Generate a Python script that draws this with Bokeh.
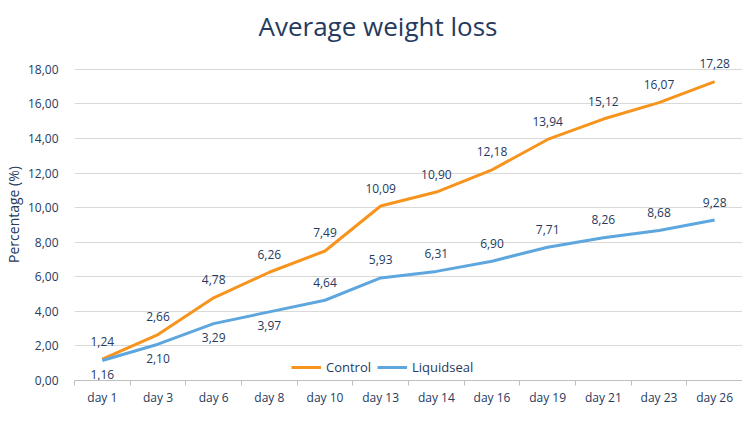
from bokeh.plotting import figure
from bokeh.models import (Range1d, FixedTicker, LinearAxis,
                          Legend, LegendItem, ColumnDataSource, Title)
from bokeh.core.properties import value
from bokeh.embed import file_html
from bokeh.resources import INLINE

days = ["day 1", "day 3", "day 6", "day 8", "day 10", "day 13", "day 14",
        "day 16", "day 19", "day 21", "day 23", "day 26"]
control = [1.24, 2.66, 4.78, 6.26, 7.49, 10.09, 10.90, 12.18, 13.94, 15.12, 16.07, 17.28]
liquidseal = [1.16, 2.10, 3.29, 3.97, 4.64, 5.93, 6.31, 6.90, 7.71, 8.26, 8.68, 9.28]
y_ticks = [0, 2, 4, 6, 8, 10, 12, 14, 16, 18]

NAVY = "#263a5e"
ORANGE = "#f7941d"
BLUE = "#5ea7de"
GRID = "#d9d9d9"
FONT = "Open Sans"

def fmt(v):
    return f"{v:.2f}".replace(".", ",")

n = len(days)
xpos = [i + 0.5 for i in range(n)]

p = figure(frame_width=668, frame_height=332, x_range=Range1d(0, n), y_range=Range1d(0, 19.2),
           output_backend="svg", toolbar_location=None, x_axis_location=None,
           y_axis_location=None, min_border_left=67, min_border_right=0,
           min_border_top=0, min_border_bottom=0)
p.outline_line_color = None
p.xgrid.grid_line_color = None
p.ygrid.ticker = FixedTicker(ticks=y_ticks)
p.ygrid.grid_line_color = GRID
p.ygrid.grid_line_width = 1

p.title = Title(text="Average weight loss", align="left", text_font=FONT,
                text_font_size="26px", text_font_style="normal", text_color=NAVY,
                offset=184, standoff=10)

yax = LinearAxis(ticker=FixedTicker(ticks=y_ticks),
                 major_label_overrides={t: fmt(t) for t in y_ticks},
                 axis_line_color=None, major_tick_line_color=None, minor_tick_line_color=None,
                 major_label_text_font=FONT, major_label_text_font_size="12px",
                 major_label_text_color=NAVY, major_label_standoff=10,
                 axis_label="Percentage (%)", axis_label_text_font=FONT,
                 axis_label_text_font_size="14px", axis_label_text_font_style="normal",
                 axis_label_text_color=NAVY, axis_label_standoff=2)
p.add_layout(yax, "left")

xax = LinearAxis(ticker=FixedTicker(ticks=xpos, minor_ticks=list(range(n + 1))),
                 major_label_overrides={x: d for x, d in zip(xpos, days)},
                 axis_line_color="#bfbfbf", major_tick_line_color=None,
                 major_tick_out=5, major_tick_in=0,
                 minor_tick_line_color="#bfbfbf", minor_tick_out=5, minor_tick_in=0,
                 major_label_text_font=FONT, major_label_text_font_size="12px",
                 major_label_text_color=NAVY, major_label_standoff=3)
p.add_layout(xax, "below")

src = ColumnDataSource(dict(x=xpos, control=control, liquidseal=liquidseal,
                            clab=[fmt(v) for v in control]))
r1 = p.line("x", "control", source=src, line_color=ORANGE, line_width=3)
r2 = p.line("x", "liquidseal", source=src, line_color=BLUE, line_width=3)

p.text("x", "control", text="clab", source=src, y_offset=-18, text_align="center",
       text_baseline="middle", text_font=value(FONT), text_font_size="12px", text_color=NAVY)

below = ColumnDataSource(dict(x=xpos[:4], y=liquidseal[:4], t=[fmt(v) for v in liquidseal[:4]]))
above = ColumnDataSource(dict(x=xpos[4:], y=liquidseal[4:], t=[fmt(v) for v in liquidseal[4:]]))
p.text("x", "y", text="t", source=below, y_offset=14, text_align="center",
       text_baseline="middle", text_font=value(FONT), text_font_size="12px", text_color=NAVY)
p.text("x", "y", text="t", source=above, y_offset=-18, text_align="center",
       text_baseline="middle", text_font=value(FONT), text_font_size="12px", text_color=NAVY)

legend = Legend(items=[LegendItem(label="Control", renderers=[r1]),
                       LegendItem(label="Liquidseal", renderers=[r2])],
                orientation="horizontal", location=(217, 4), border_line_color=None,
                background_fill_alpha=0, label_text_font=FONT, label_text_font_size="13px",
                label_text_color=NAVY, glyph_width=30, glyph_height=14, label_height=14,
                label_standoff=5, spacing=6, padding=0, margin=0)
p.add_layout(legend)

open("out.html", "w").write(file_html(p, INLINE))
